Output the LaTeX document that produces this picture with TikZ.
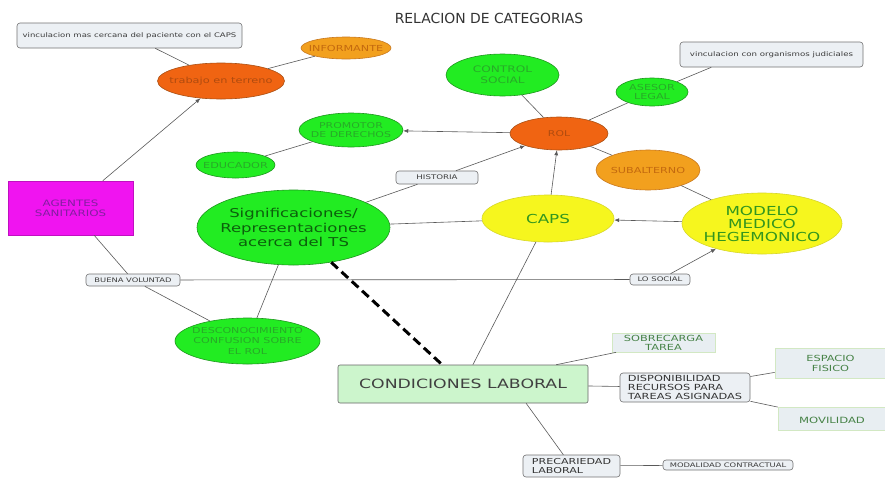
\documentclass[tikz,border=0pt]{standalone}
\usepackage{fontspec}
\setmainfont{DejaVu Sans}[FakeStretch=1.35]
\newfontfamily\titlefont{DejaVu Sans}
\usetikzlibrary{shapes.geometric,arrows.meta}
\definecolor{ggreen}{RGB}{34,236,34}
\definecolor{gborder}{RGB}{30,150,30}
\definecolor{gtext}{RGB}{40,170,40}
\definecolor{gdark}{RGB}{12,95,12}
\definecolor{dorange}{RGB}{240,100,18}
\definecolor{dorangeb}{RGB}{170,80,20}
\definecolor{dorangetext}{RGB}{175,75,15}
\definecolor{lorange}{RGB}{242,160,30}
\definecolor{lorangeb}{RGB}{200,120,30}
\definecolor{lorangetext}{RGB}{195,105,15}
\definecolor{yel}{RGB}{246,246,30}
\definecolor{yelb}{RGB}{215,215,40}
\definecolor{ytext}{RGB}{50,150,30}
\definecolor{mag}{RGB}{240,20,240}
\definecolor{magtext}{RGB}{130,30,160}
\definecolor{notefill}{RGB}{236,240,244}
\definecolor{notetext}{RGB}{60,60,60}
\definecolor{condfill}{RGB}{204,245,204}
\definecolor{pboxfill}{RGB}{232,238,242}
\definecolor{pboxb}{RGB}{210,232,195}
\definecolor{ptext}{RGB}{70,130,70}
\definecolor{linegray}{RGB}{90,90,90}
\newcommand\fsz[2]{\fontsize{#1}{#2}\selectfont}
\begin{document}
\begin{tikzpicture}[x=1pt,y=-1pt,
  ell/.style={ellipse, draw, line width=0.6pt, inner sep=0pt},
  grn/.style={ell, fill=ggreen, draw=gborder},
  org/.style={ell, fill=dorange, draw=dorangeb},
  lorg/.style={ell, fill=lorange, draw=lorangeb},
  yel/.style={ell, fill=yel, draw=yelb},
  tx/.style={inner sep=0pt, align=center},
  gt/.style={tx, text=gtext},
  ot/.style={tx, text=dorangetext},
  lot/.style={tx, text=lorangetext},
  yt/.style={tx, text=ytext},
  note/.style={rectangle, rounded corners=3pt, draw=gray!90!black, line width=0.6pt, fill=notefill, text=notetext, inner sep=0pt, align=center},
  pbox/.style={rectangle, draw=pboxb, line width=0.6pt, fill=pboxfill, text=ptext, inner sep=0pt, align=center},
  link/.style={draw=linegray, line width=0.6pt},
  arr/.style={link, -{Latex[length=5pt,width=4pt]}}]
\useasboundingbox[fill=white] (0,0) rectangle (885,477);

\node[font=\titlefont\fsz{13.9}{15}, text=black!80] (title) at (489,18) {RELACION DE CATEGORIAS};

\node[note, minimum width=225, minimum height=25, font=\fsz{6.3}{8}] (vinc1) at (129.5,35.5) {vinculacion mas cercana del paciente con el CAPS};
\node[lorg, minimum width=90, minimum height=22] (inform) at (346,48) {};
\node[lot, font=\fsz{8.3}{9.5}] (inform-t) at (inform) {INFORMANTE};
\node[org, minimum width=127, minimum height=36] (trabajo) at (221,81) {};
\node[ot, font=\fsz{8.4}{9.5}] (trabajo-t) at (trabajo) {trabajo en terreno};
\node[grn, minimum width=104, minimum height=34] (promotor) at (351,130) {};
\node[gt, font=\fsz{8.1}{9.5}] (promotor-t) at (promotor) {PROMOTOR\\DE DERECHOS};
\node[grn, minimum width=79, minimum height=26] (educador) at (235.5,165) {};
\node[gt, font=\fsz{8.3}{9.5}] (educador-t) at (educador) {EDUCADOR};
\node[grn, minimum width=113, minimum height=42] (control) at (502.5,75) {};
\node[gt, font=\fsz{9}{11}] (control-t) at (control) {CONTROL\\SOCIAL};
\node[org, minimum width=98, minimum height=33] (rol) at (559,133.5) {};
\node[ot, font=\fsz{8}{9}] (rol-t) at (rol) {ROL};
\node[grn, minimum width=72, minimum height=28] (asesor) at (652,92) {};
\node[gt, font=\fsz{8.3}{9.5}] (asesor-t) at (asesor) {ASESOR\\LEGAL};
\node[note, minimum width=183, minimum height=25, font=\fsz{6.4}{8}] (vinc2) at (771.5,54.5) {vinculacion con organismos judiciales};
\node[lorg, minimum width=104, minimum height=40] (subal) at (648,170) {};
\node[lot, font=\fsz{8.3}{9.5}] (subal-t) at (subal) {SUBALTERNO};
\node[note, minimum width=82, minimum height=13, font=\fsz{6.4}{7}] (historia) at (437,177.5) {HISTORIA};
\node[grn, minimum width=193, minimum height=75] (signif) at (293.5,227.5) {};
\node[tx, text=gdark, font=\fsz{12.2}{14.5}] (signif-t) at (signif) {Significaciones/\\Representaciones\\acerca del TS};
\node[yel, minimum width=132, minimum height=47] (caps) at (548,218.5) {};
\node[yt, font=\fsz{12.4}{14}] (caps-t) at (caps) {CAPS};
\node[yel, minimum width=160, minimum height=61] (modelo) at (762,223.5) {};
\node[yt, font=\fsz{12.4}{13}] (modelo-t) at (modelo) {MODELO\\MEDICO\\HEGEMONICO};
\node[rectangle, fill=mag, draw=mag!80!black, line width=0.6pt, text=magtext, minimum width=125, minimum height=54, inner sep=0pt, align=center, font=\fsz{8.8}{10}] (agentes) at (70.5,208) {AGENTES\\SANITARIOS};
\node[note, minimum width=94, minimum height=12, font=\fsz{6.2}{7}] (buena) at (133,280) {BUENA VOLUNTAD};
\node[note, minimum width=60, minimum height=11, font=\fsz{6.3}{7}] (losocial) at (660,279.5) {LO SOCIAL};
\node[grn, minimum width=145, minimum height=46] (desc) at (247.5,341) {};
\node[gt, font=\fsz{8.2}{10.5}] (desc-t) at (desc) {DESCONOCIMIENTO\\CONFUSION SOBRE\\EL ROL};
\node[rectangle, rounded corners=2pt, fill=condfill, draw=gray!80!black, line width=0.6pt, text=black!75, minimum width=250, minimum height=38, inner sep=0pt, font=\fsz{12.8}{14}] (cond) at (463,384) {CONDICIONES LABORAL};
\node[pbox, minimum width=103, minimum height=19, font=\fsz{8.4}{9}] (sobre) at (663.5,342.5) {SOBRECARGA\\TAREA};
\node[note, minimum width=130, minimum height=29, align=left, text=black!80, font=\fsz{8.4}{8.6}] (dispon) at (685,387.5) {DISPONIBILIDAD\\RECURSOS PARA\\TAREAS ASIGNADAS};
\node[pbox, minimum width=111, minimum height=30, font=\fsz{8.4}{10}] (espacio) at (830.5,363) {ESPACIO\\FISICO};
\node[pbox, minimum width=108, minimum height=23, font=\fsz{8.6}{9}] (movil) at (832,418.5) {\raisebox{-10pt}{MOVILIDAD}};
\node[note, minimum width=97, minimum height=22, align=left, text=black!80, font=\fsz{8.2}{8.5}] (precar) at (571.5,466) {PRECARIEDAD\\LABORAL};
\node[note, minimum width=130, minimum height=10, font=\fsz{6.2}{6.5}] (modal) at (728,465) {MODALIDAD CONTRACTUAL};

% connectors
\draw[link] (vinc1) -- (trabajo);
\draw[link] (trabajo) -- (inform);
\draw[arr] (agentes) -- (trabajo);
\draw[arr] (rol) -- (promotor);
\draw[link] (educador) -- (promotor);
\draw[link] (rol) -- (control);
\draw[link] (rol) -- (asesor);
\draw[link] (asesor) -- (vinc2.192);
\draw[link] (rol) -- (subal);
\draw[link] (subal) -- (modelo);
\draw[link] (signif) -- (historia);
\draw[arr] (historia) -- (rol);
\draw[arr] (caps) -- (rol);
\draw[link] (caps) -- (signif);
\draw[arr] (modelo) -- (caps);
\draw[link] (agentes) -- (buena);
\draw[link] (buena) -- (desc);
\draw[link] (buena) -- (losocial);
\draw[arr] (losocial) -- (modelo);
\draw[link] (signif) -- (desc);
\draw[black, line width=3pt, dash pattern=on 9pt off 5pt] (signif) -- (cond);
\draw[link] (cond) -- (caps);
\draw[link] (cond) -- (sobre);
\draw[link] (cond) -- (dispon);
\draw[link] (dispon) -- (espacio);
\draw[link] (dispon) -- (movil);
\draw[link] (cond.-17) -- (precar);
\draw[link] (precar) -- (modal);
\end{tikzpicture}
\end{document}
